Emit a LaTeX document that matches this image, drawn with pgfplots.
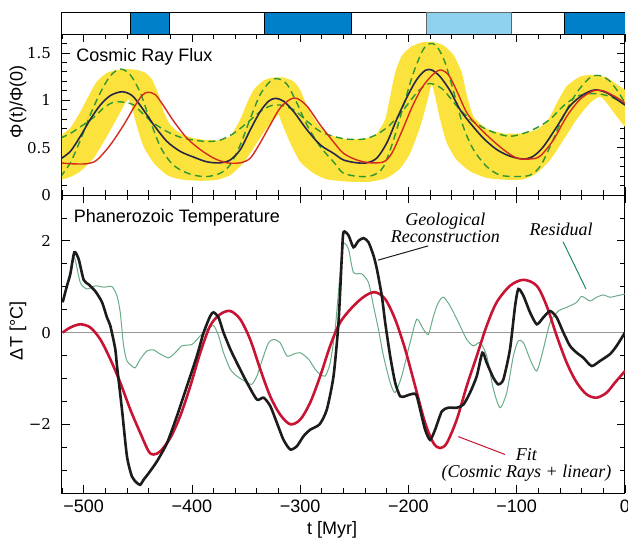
\documentclass[border=0pt]{standalone}
\usepackage{fontspec}
\setmainfont{Liberation Sans}
\newfontfamily\serifnum{DejaVu Serif}
\newfontfamily\annotfont{Liberation Serif}
\usepackage{pgfplots}
\pgfplotsset{compat=1.18}

\definecolor{bandyellow}{RGB}{252,226,60}
\definecolor{crfblack}{RGB}{40,40,72}
\definecolor{crfred}{RGB}{212,42,30}
\definecolor{dashgreen}{RGB}{46,150,50}
\definecolor{tblack}{RGB}{28,28,28}
\definecolor{tred}{RGB}{200,20,50}
\definecolor{resgreen}{RGB}{105,172,135}
\definecolor{leadgreen}{RGB}{30,140,90}
\definecolor{barblue}{RGB}{0,128,200}
\definecolor{barlight}{RGB}{142,210,240}

\pgfplotsset{
  panel/.style={
    scale only axis, width=281.5pt,
    xmin=-520, xmax=0,
    axis line style={line width=0.5pt},
    tick align=inside,
    major tick length=4pt, minor tick length=2.4pt,
    every tick/.style={black, line width=0.4pt},
    xtick={-500,-400,-300,-200,-100,0},
    minor xtick={-520,-500,...,0},
    xticklabel style={font=\fontsize{9}{10}\selectfont},
    yticklabel style={font=\serifnum\fontsize{7.5}{9}\selectfont, xshift=-2pt},
    label style={font=\fontsize{9}{10}\selectfont},
  }
}

\begin{document}
\begin{tikzpicture}
\useasboundingbox (-31pt,-22pt) rectangle (283pt,246.5pt);

% ice age bar
\begin{axis}[scale only axis, width=281.5pt, height=11pt,
  at={(0,229.5pt)}, anchor=south west,
  xmin=-520, xmax=0, ymin=0, ymax=1,
  xtick=\empty, ytick=\empty, axis line style={line width=0.5pt}]
\addplot[draw=black, line width=0.4pt, fill=barblue] coordinates {(-457,0) (-457,1) (-421,1) (-421,0)} \closedcycle;
\addplot[draw=black, line width=0.4pt, fill=barblue] coordinates {(-333,0) (-333,1) (-253,1) (-253,0)} \closedcycle;
\addplot[draw=black!60, line width=0.4pt, fill=barlight] coordinates {(-183,0) (-183,1) (-105,1) (-105,0)} \closedcycle;
\addplot[draw=black, line width=0.4pt, fill=barblue] coordinates {(-56,0) (-56,1) (0,1) (0,0)} \closedcycle;
\end{axis}

% cosmic ray flux
\begin{axis}[panel, height=80.5pt, at={(0,149pt)}, anchor=south west,
  ymin=0, ymax=1.7,
  ytick={0,0.5,1,1.5}, yticklabels={0,0.5,1,1.5},
  minor ytick={0,0.1,...,1.7},
  xticklabels={},
  ylabel={Φ(t)/Φ(0)},
  ylabel style={at={(axis description cs:-0.078,0.578)}, anchor=center}]

% uncertainty band
\addplot[fill=bandyellow, draw=none, smooth, tension=0.35] coordinates {
 (-530,0.50) (-521.5,0.62) (-512.3,0.71) (-503,0.88) (-493.8,1.08) (-487.7,1.20) (-478.5,1.29) (-469.2,1.32) (-460,1.33)
 (-450.7,1.32) (-443,1.29) (-436.9,1.22) (-430.7,1.06) (-426.1,0.88) (-420,0.74) (-410.7,0.65) (-398.4,0.60)
 (-386,0.58) (-373.8,0.58) (-364.6,0.62) (-355.3,0.80) (-349.2,0.97) (-343,1.11) (-333.8,1.21) (-324.6,1.24)
 (-315.3,1.24) (-306.1,1.20) (-300,1.11) (-293.8,0.94) (-284.6,0.76) (-275.3,0.65) (-263,0.60) (-253.8,0.59)
 (-238.5,0.60) (-229.2,0.65) (-221.5,0.80) (-216.9,1.04) (-212.3,1.29) (-206.2,1.47) (-197,1.57) (-186.2,1.615)
 (-177,1.615) (-167.7,1.58) (-158.5,1.48) (-150.7,1.29) (-146.2,1.06) (-140,0.83) (-127.7,0.70) (-112.3,0.65)
 (-96.9,0.65) (-81.5,0.69) (-70.8,0.80) (-63,0.97) (-53.8,1.15) (-41.5,1.25) (-29.2,1.27) (-17,1.24)
 (-7.7,1.17) (0,1.11) (6,1.06)
 (6,0.64) (0,0.72) (-7.7,0.83) (-15.4,0.95) (-23,1.04) (-32.3,0.97) (-44.6,0.80) (-56.9,0.58) (-69.2,0.37)
 (-81.5,0.23) (-93.8,0.165) (-109.2,0.16) (-127.7,0.18) (-143,0.25) (-155.4,0.37) (-164.6,0.55) (-170.8,0.80)
 (-175.4,1.04) (-178.5,1.17) (-180,1.11) (-183.1,0.97) (-189.2,0.72) (-198.5,0.44) (-207.7,0.28) (-220,0.18)
 (-235.4,0.14) (-253.8,0.14) (-275.3,0.165) (-287.7,0.23) (-300,0.35) (-309.2,0.55) (-317,0.76) (-320,0.85)
 (-323,0.81) (-330.7,0.71) (-340,0.55) (-352.3,0.34) (-364.6,0.21) (-377,0.16) (-392.3,0.15) (-410.7,0.165)
 (-423,0.21) (-435.4,0.34) (-444.6,0.51) (-450.7,0.72) (-455.3,0.92) (-458.4,1.01) (-461.5,0.97) (-469.2,0.81)
 (-478.5,0.62) (-490.7,0.39) (-503,0.25) (-512.3,0.19) (-521.5,0.16) (-530,0.14)
};

% dashed green: high amplitude
\addplot[dashgreen, line width=0.7pt, dash pattern=on 3.5pt off 2.2pt, smooth, tension=0.5] coordinates {
 (-521.5,0.19) (-512.3,0.34) (-503,0.58) (-493.8,0.85) (-484.6,1.08) (-475.3,1.26) (-466,1.33) (-457,1.27)
 (-447.7,1.08) (-438.4,0.78) (-429.2,0.51) (-420,0.35) (-410.7,0.265) (-398.4,0.21) (-386,0.195) (-373.8,0.23)
 (-364.6,0.32) (-355.3,0.53) (-346,0.81) (-337,1.06) (-327.7,1.20) (-321.5,1.23) (-312.3,1.17) (-303,0.97)
 (-293.8,0.74) (-281.5,0.51) (-269.2,0.35) (-260,0.23) (-244.6,0.195) (-232.3,0.21) (-223,0.30) (-213.8,0.58)
 (-204.6,0.94) (-195.4,1.29) (-186.2,1.54) (-180,1.60) (-173.8,1.57) (-166.2,1.40) (-157,1.04) (-149.3,0.72)
 (-140,0.48) (-127.7,0.30) (-115.4,0.21) (-100,0.195) (-87.7,0.21) (-78.5,0.30) (-69.2,0.51) (-56.9,0.83)
 (-44.6,1.08) (-32.3,1.24) (-23,1.26) (-13.8,1.20) (-4.6,1.06) (0,0.97)
};

% dashed green: low amplitude
\addplot[dashgreen, line width=0.7pt, dash pattern=on 3.5pt off 2.2pt, smooth, tension=0.5] coordinates {
 (-521.5,0.60) (-512.3,0.65) (-503,0.72) (-490.7,0.82) (-481.5,0.92) (-472.3,0.98) (-463,0.98) (-453.8,0.95)
 (-444.6,0.85) (-435.4,0.76) (-423,0.67) (-410.7,0.61) (-398.4,0.58) (-386,0.565) (-373.8,0.58) (-361.5,0.65)
 (-349.2,0.76) (-337,0.88) (-327.7,0.94) (-318.5,0.95) (-306,0.90) (-293.8,0.78) (-281.5,0.67) (-269.2,0.62)
 (-257,0.59) (-241.5,0.59) (-229.2,0.64) (-217,0.74) (-204.6,0.90) (-192.3,1.08) (-183,1.17) (-176.9,1.17)
 (-167.7,1.11) (-155.4,0.94) (-143,0.80) (-130.8,0.71) (-118.5,0.65) (-106.2,0.62) (-93.8,0.65) (-81.5,0.71)
 (-69.2,0.80) (-56.9,0.94) (-44.6,1.04) (-32.3,1.07) (-20,1.06) (-7.7,1.01) (0,0.95)
};

% nominal flux
\addplot[crfblack, line width=0.8pt, smooth, tension=0.5] coordinates {
 (-521.5,0.38) (-512.3,0.46) (-503,0.62) (-493.8,0.80) (-484.6,0.95) (-475.3,1.05) (-464.6,1.09) (-455.3,1.05)
 (-446.1,0.92) (-435.3,0.74) (-423,0.565) (-410.7,0.46) (-398.4,0.40) (-386,0.35) (-373.8,0.34) (-364.6,0.37)
 (-355.3,0.48) (-346,0.69) (-337,0.88) (-329.2,0.99) (-323,1.02) (-315.3,0.99) (-306,0.88) (-293.8,0.69)
 (-281.5,0.53) (-269.2,0.44) (-260,0.37) (-247.7,0.34) (-238.4,0.34) (-229.2,0.39) (-220,0.55) (-210.8,0.80)
 (-201.5,1.03) (-192.3,1.22) (-184.6,1.315) (-178.5,1.32) (-170.8,1.25) (-161.5,1.10) (-152.3,0.90) (-143,0.76)
 (-130.8,0.60) (-118.5,0.48) (-106.2,0.41) (-93.8,0.38) (-84.6,0.41) (-75.4,0.51) (-63,0.72) (-50.8,0.94)
 (-38.5,1.06) (-27.7,1.11) (-17,1.08) (-7.7,1.01) (0,0.95)
};

% lagged flux
\addplot[crfred, line width=0.7pt, smooth, tension=0.5] coordinates {
 (-521.5,0.34) (-512.3,0.33) (-497,0.33) (-487.7,0.37) (-475.3,0.53) (-463,0.74) (-453.8,0.92) (-446.1,1.05)
 (-440.9,1.085) (-433.8,1.06) (-426.1,0.94) (-416.9,0.78) (-404.6,0.60) (-392.3,0.48) (-380,0.39) (-367.7,0.34)
 (-355.3,0.34) (-346,0.39) (-337,0.55) (-327.7,0.74) (-318.5,0.92) (-309.2,1.01) (-303,1.02) (-293.8,0.94)
 (-281.5,0.74) (-269.2,0.56) (-260,0.44) (-247.7,0.37) (-235.4,0.34) (-223,0.35) (-215.4,0.44) (-206.2,0.67)
 (-197,0.92) (-187.7,1.13) (-178.5,1.26) (-170.8,1.32) (-163.1,1.27) (-155.4,1.10) (-146.2,0.87) (-137,0.74)
 (-124.6,0.60) (-112.3,0.48) (-100,0.39) (-87.7,0.38) (-78.5,0.41) (-66.2,0.58) (-53.8,0.83) (-41.5,1.01)
 (-29.2,1.10) (-20,1.10) (-7.7,1.03) (0,0.97)
};

\node[anchor=base west, inner sep=0, font=\fontsize{9}{10}\selectfont] at (axis cs:-507,1.41) {Cosmic Ray Flux};
\end{axis}

% temperature
\begin{axis}[panel, height=149pt, at={(0,0)}, anchor=south west,
  ymin=-3.5, ymax=3,
  ytick={-2,0,2}, yticklabels={−2,0,2},
  minor ytick={-3.5,-3,...,3},
  xticklabels={−500,−400,−300,−200,−100,0},
  xlabel={t [Myr]},
  xlabel style={at={(ticklabel cs:0.48)}, yshift=2.5pt},
  ylabel={ΔT [°C]},
  ylabel style={at={(axis description cs:-0.078,0.544)}, anchor=center}]

\addplot[gray!80, line width=0.5pt] coordinates {(-520,0) (0,0)};

% residual
\addplot[resgreen, line width=0.5pt, smooth, tension=0.4] coordinates {
 (-519.4,0.66) (-515.4,1.02) (-512.3,1.28) (-508.6,1.64) (-503.1,1.09) (-496.9,0.95) (-489.2,1.02) (-481.5,0.99)
 (-473.8,1.0) (-469.2,0.8) (-466.2,0.44) (-463.1,-0.29) (-460,-0.62) (-455.4,-0.73) (-452.3,-0.77) (-447.7,-0.58)
 (-441.5,-0.40) (-435.4,-0.38) (-429.2,-0.47) (-421.5,-0.55) (-415.4,-0.44) (-409.2,-0.29) (-400,-0.26) (-393.8,-0.11)
 (-386.2,0.07) (-380,0.15) (-375.4,-0.07) (-370.8,-0.44) (-364.6,-0.80) (-358.5,-0.95) (-349.2,-1.09) (-344.6,-1.13)
 (-340,-0.95) (-333.8,-0.51) (-329.2,-0.22) (-324.6,-0.15) (-318.5,-0.22) (-312.3,-0.51) (-306.2,-0.47) (-300,-0.44)
 (-292.3,-0.58) (-286.2,-0.80) (-281.5,-0.91) (-276.9,-0.95) (-272.3,-0.66) (-267.7,0.07) (-263.1,1.31) (-260,1.93)
 (-255.4,1.82) (-250.8,1.31) (-243.1,1.28) (-236.9,1.09) (-232.3,0.58) (-227.7,0.07) (-223.1,-0.51) (-216.9,-1.09)
 (-212.3,-1.31) (-206.2,-0.95) (-198.5,-0.22) (-192.3,0.29) (-186.2,0.07) (-181.5,-0.04) (-176.9,0.36) (-172.3,0.66)
 (-167.7,0.77) (-161.5,0.58) (-153.8,0.22) (-146.2,-0.15) (-140,-0.29) (-133.8,-0.22) (-127.7,-0.51) (-121.5,-1.24)
 (-115.4,-1.64) (-109.2,-1.31) (-103.1,-0.51) (-98.5,-0.18) (-93.8,-0.22) (-87.7,-0.58) (-81.5,-0.84) (-75.4,-0.36)
 (-69.2,0.22) (-61.5,0.47) (-53.8,0.55) (-44.6,0.66) (-40,0.79) (-32.3,0.69) (-26.2,0.77) (-20,0.82)
 (-13.8,0.77) (-7.7,0.8) (0,0.84)
};

% fit
\addplot[tred, line width=1.3pt, smooth, tension=0.5] coordinates {
 (-519.4,0) (-512.3,0.11) (-503.1,0.18) (-493.8,0.11) (-484.6,-0.15) (-475.4,-0.58) (-466.2,-1.09) (-456.9,-1.68)
 (-447.7,-2.19) (-440,-2.59) (-435.4,-2.66) (-429.2,-2.59) (-420,-2.3) (-410.8,-1.82) (-401.5,-1.17) (-392.3,-0.44)
 (-383.1,0.15) (-373.8,0.4) (-364.6,0.47) (-355.4,0.29) (-346.2,-0.15) (-336.9,-0.80) (-327.7,-1.39) (-318.5,-1.79)
 (-309.2,-2.0) (-300,-1.90) (-290.8,-1.53) (-281.5,-0.95) (-272.3,-0.29) (-263.1,0.22) (-250.8,0.58) (-240,0.80)
 (-230.8,0.88) (-221.5,0.73) (-212.3,0.29) (-203.1,-0.36) (-193.8,-1.17) (-184.6,-1.97) (-176.9,-2.41) (-170.8,-2.52)
 (-164.6,-2.41) (-155.4,-1.9) (-146.2,-1.17) (-136.9,-0.51) (-127.7,0.15) (-118.5,0.66) (-106.2,1.02) (-93.8,1.15)
 (-81.5,1.02) (-72.3,0.58) (-63.1,-0.07) (-53.8,-0.66) (-44.6,-1.09) (-35.4,-1.35) (-26.2,-1.42) (-16.9,-1.31)
 (-9.2,-1.09) (0,-0.84)
};

% geological reconstruction
\addplot[tblack, line width=1.3pt, smooth, tension=0.4] coordinates {
 (-519.4,0.66) (-515.4,1.02) (-512.3,1.28) (-508.6,1.75) (-504.6,1.6) (-500,1.15) (-495.4,1.05) (-489.2,0.9)
 (-483,0.66) (-478.5,0.33) (-475.4,0.15) (-470.8,-0.36) (-469.2,-0.73) (-464.6,-1.68) (-460,-2.7) (-455.4,-3.14)
 (-450.8,-3.28) (-447.7,-3.32) (-444.6,-3.21) (-440,-3.07) (-432.3,-2.81) (-423,-2.41) (-413.8,-1.82) (-404.6,-1.17)
 (-395.4,-0.51) (-389.2,0) (-383.1,0.36) (-380,0.44) (-375.4,0.33) (-370.8,0) (-364.6,-0.36) (-358.5,-0.66)
 (-349.2,-1.09) (-340,-1.46) (-333.8,-1.42) (-327.7,-1.6) (-321.5,-1.97) (-315.4,-2.34) (-309.2,-2.55) (-303.1,-2.48)
 (-296.9,-2.26) (-290.8,-2.12) (-282,-2.0) (-275.4,-1.68) (-269.2,-0.95) (-264.6,0.22) (-261.5,1.68) (-260,2.19)
 (-255.4,2.12) (-250.8,1.86) (-246.2,2.0) (-241.5,2.06) (-236.9,1.97) (-232.3,1.68) (-229.2,1.39) (-224.6,0.80)
 (-221.5,0.22) (-216.9,-0.51) (-212.3,-1.09) (-207.7,-1.39) (-203.1,-1.39) (-198.5,-1.35) (-192.9,-1.35) (-189.2,-1.68)
 (-184.6,-2.12) (-180,-2.34) (-175.4,-2.12) (-169.2,-1.72) (-163.1,-1.64) (-155.4,-1.64) (-149.2,-1.57) (-143.1,-1.31)
 (-136.9,-0.95) (-131.7,-0.44) (-127.7,-0.66) (-121.5,-0.99) (-116.9,-1.13) (-112.3,-1.02) (-106.2,-0.36) (-101.5,0.58)
 (-98.5,0.95) (-93.8,0.80) (-87.7,0.44) (-81.5,0.18) (-75.4,0.33) (-69.2,0.47) (-63.1,0.33) (-56.9,0)
 (-50.8,-0.29) (-44.6,-0.44) (-38.5,-0.55) (-30.8,-0.73) (-23.1,-0.62) (-13.8,-0.47) (-7.7,-0.29) (0,0)
};

\node[anchor=base west, inner sep=0, font=\fontsize{9}{10}\selectfont] at (axis cs:-509.5,2.39) {Phanerozoic Temperature};

\node[inner sep=0, align=center, font=\annotfont\itshape\fontsize{9}{8.3}\selectfont] at (axis cs:-166,2.29) {Geological\\Reconstruction};
\draw[tblack, line width=0.5pt] (axis cs:-228,1.58) -- (axis cs:-181.8,1.89);

\node[anchor=base, inner sep=0, font=\annotfont\itshape\fontsize{9}{10}\selectfont] at (axis cs:-59,2.11) {Residual};
\draw[leadgreen, line width=0.5pt] (axis cs:-57.2,1.98) -- (axis cs:-36,0.95);

\node[inner sep=0, align=center, font=\annotfont\itshape\fontsize{9}{8.3}\selectfont] at (axis cs:-91,-2.89) {Fit\\(Cosmic Rays + linear)};
\draw[tred, line width=0.5pt] (axis cs:-154,-2.27) -- (axis cs:-110.8,-2.66);
\end{axis}
\end{tikzpicture}
\end{document}
